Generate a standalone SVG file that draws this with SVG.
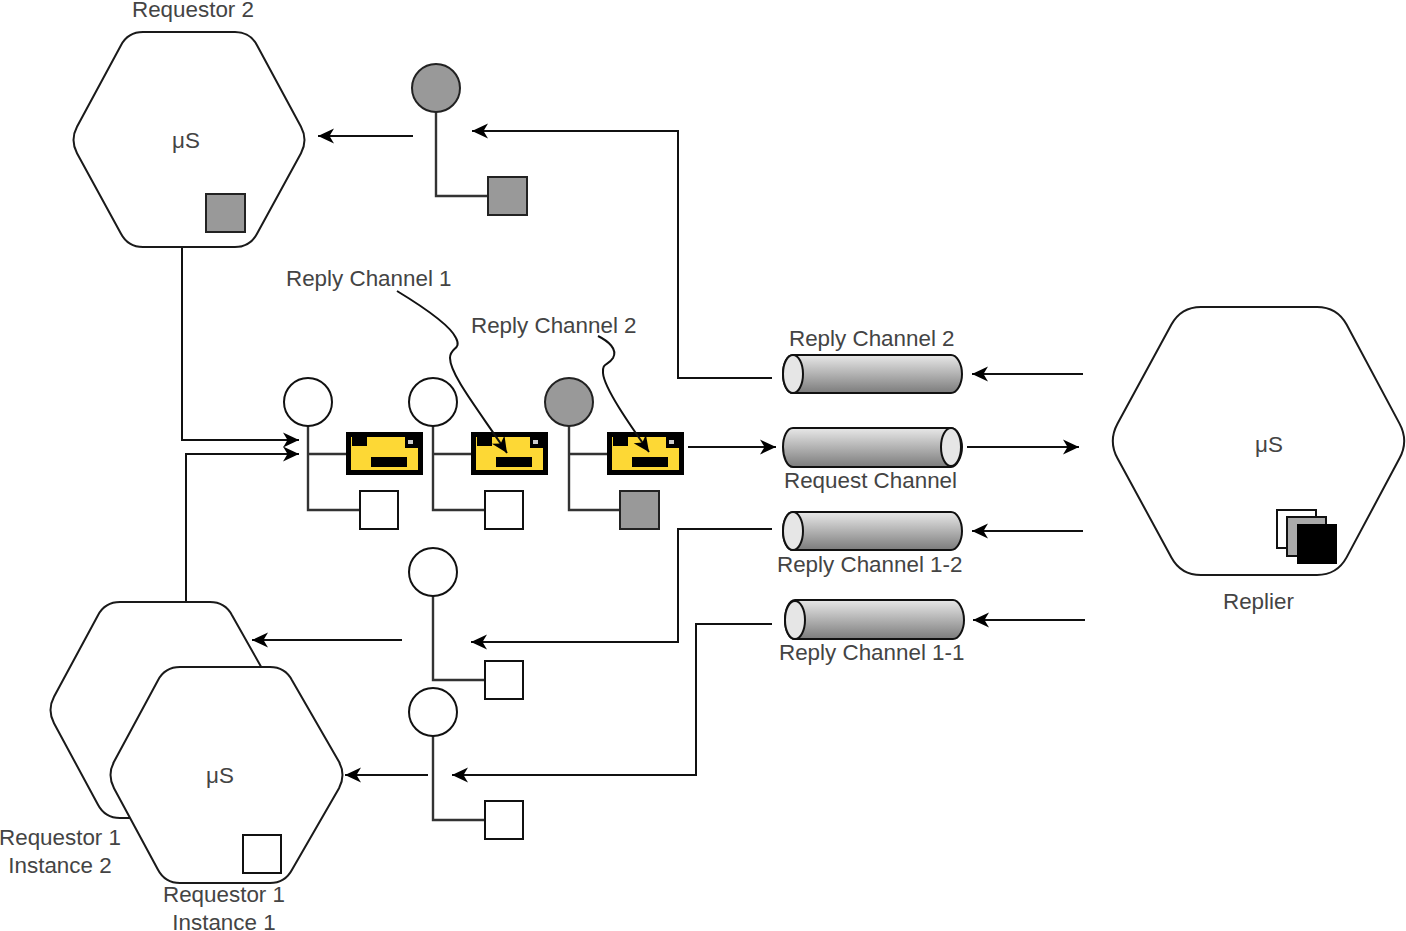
<svg xmlns="http://www.w3.org/2000/svg" width="1406" height="931" viewBox="0 0 1406 931">
<style>
text{font-family:"Liberation Sans",Arial,sans-serif;font-size:22.4px;fill:#444}
.m{text-anchor:middle}
.hex{fill:#fff;stroke:#1a1a1a;stroke-width:2}
.c{fill:none;stroke:#111;stroke-width:2}
.a{marker-end:url(#ah)}
.w{fill:#fff;stroke:#111;stroke-width:2}
.g{fill:#999;stroke:#222;stroke-width:2}
.stem{fill:none;stroke:#333;stroke-width:2.400}
.ye{fill:#fdd835;stroke:#000;stroke-width:5}
.k{fill:#000}
.cy{fill:url(#cg);stroke:#111;stroke-width:2}
.ce{fill:#e6e6e6;stroke:#111;stroke-width:2}
</style>
<defs>
<linearGradient id="cg" x1="0" y1="0" x2="0" y2="1"><stop offset="0" stop-color="#e8e8e8"/><stop offset="1" stop-color="#7c7c7c"/></linearGradient>
<marker id="ah" markerUnits="userSpaceOnUse" markerWidth="18" markerHeight="18" refX="16" refY="9" orient="auto"><path d="M0 1.500L16 9L0 16.500L4.500 9Z" fill="#000"/></marker>
<g id="yb"><rect class="ye" x="2.500" y="2.500" width="72" height="38"/><rect class="k" x="6" y="3" width="15" height="11"/><rect class="k" x="59" y="3" width="13" height="13"/><rect x="62" y="8" width="5" height="4" fill="#ccc"/><rect class="k" x="25" y="25" width="36" height="10"/></g>
</defs>

<g id="connectors">
<path class="c a" d="M182 247V440H299"/>
<path class="c a" d="M186 603V454H299"/>
<path class="c a" d="M413 136H318"/>
<path class="c a" d="M772 378H678V131H472"/>
<path class="c a" d="M1083 374H972"/>
<path class="c a" d="M688 447H776"/>
<path class="c a" d="M967 447H1079"/>
<path class="c a" d="M1083 531H972"/>
<path class="c a" d="M772 529H678V642H471"/>
<path class="c a" d="M402 640H252"/>
<path class="c a" d="M1085 620H973"/>
<path class="c a" d="M772 624H696V775H452"/>
<path class="c a" d="M428 775H345"/>
<path class="stem" d="M436 112V196H488"/>
<path class="stem" d="M308 426V510H360M308 454H346"/>
<path class="stem" d="M433 426V510H485M433 454H471"/>
<path class="stem" d="M569 426V510H620M569 454H607"/>
<path class="stem" d="M433 596V680H485"/>
<path class="stem" d="M433 736V820H485"/>
</g>

<g id="requestor2">
<path class="hex" d="M77 153.200Q70 140 77 126.800L121 45.200Q128 32 143 32H235Q250 32 257 45.200L301 126.800Q308 140 301 153.200L257 233.800Q250 247 235 247H143Q128 247 121 233.800Z"/>
<text class="m" x="186" y="148">μS</text>
<rect class="g" x="206" y="194" width="39" height="38"/>
<text class="m" x="193" y="17">Requestor 2</text>
</g>

<g id="requestor1-instance2">
<path class="hex" d="M54 723.200Q47 710 54 696.800L98 615.200Q105 602 120 602H210Q225 602 232 615.200L278 696.800Q285 710 278 723.200L232 804.800Q225 818 210 818H120Q105 818 98 804.800Z"/>
<text class="m" x="60" y="845">Requestor 1</text>
<text class="m" x="60" y="873">Instance 2</text>
</g>

<g id="requestor1-instance1">
<path class="hex" d="M114 788.200Q107 775 114 761.800L158 680.200Q165 667 180 667H270Q285 667 292 680.200L339 761.800Q346 775 339 788.200L292 869.800Q285 883 270 883H180Q165 883 158 869.800Z"/>
<text class="m" x="220" y="783">μS</text>
<rect class="w" x="243" y="835" width="38" height="38"/>
<text class="m" x="224" y="902">Requestor 1</text>
<text class="m" x="224" y="930">Instance 1</text>
</g>

<g id="replier">
<path class="hex" d="M1117.600 458.600Q1108 441 1117.600 423.400L1171.400 324.600Q1181 307 1201 307H1317Q1337 307 1346.600 324.600L1399.400 423.400Q1409 441 1399.400 458.600L1346.600 557.400Q1337 575 1317 575H1201Q1181 575 1171.400 557.400Z"/>
<text class="m" x="1269" y="452">μS</text>
<rect class="w" x="1277" y="510" width="39" height="38"/>
<rect x="1287" y="517" width="39" height="39" fill="#aaa" stroke="#111" stroke-width="2"/>
<rect class="k" x="1297" y="524" width="40" height="40"/>
<text x="1223" y="609">Replier</text>
</g>

<g id="endpoint-top"><circle class="g" cx="436" cy="88" r="24"/><rect class="g" x="488" y="177" width="39" height="38"/></g>
<g id="endpoint-1"><circle class="w" cx="308" cy="402" r="24"/><use href="#yb" x="346" y="432"/><rect class="w" x="360" y="491" width="38" height="38"/></g>
<g id="endpoint-2"><circle class="w" cx="433" cy="402" r="24"/><use href="#yb" x="471" y="432"/><rect class="w" x="485" y="491" width="38" height="38"/></g>
<g id="endpoint-3"><circle class="g" cx="569" cy="402" r="24"/><use href="#yb" x="607" y="432"/><rect class="g" x="620" y="491" width="39" height="38"/></g>
<g id="endpoint-4"><circle class="w" cx="433" cy="572" r="24"/><rect class="w" x="485" y="661" width="38" height="38"/></g>
<g id="endpoint-5"><circle class="w" cx="433" cy="712" r="24"/><rect class="w" x="485" y="801" width="38" height="38"/></g>

<g id="channel-reply2">
<path class="cy" d="M793 355H951C957 355 962 364 962 374S957 393 951 393H793C787 393 783 384 783 374S787 355 793 355Z"/>
<ellipse class="ce" cx="793" cy="374" rx="10" ry="19"/>
<text x="789" y="346">Reply Channel 2</text>
</g>
<g id="channel-request">
<path class="cy" d="M793 428H951C957 428 962 438 962 447S957 467 951 467H793C787 467 783 457 783 447S787 428 793 428Z"/>
<ellipse class="ce" cx="951" cy="447" rx="10" ry="19"/>
<text x="784" y="488">Request Channel</text>
</g>
<g id="channel-reply12">
<path class="cy" d="M793 512H951C957 512 962 521 962 531S957 550 951 550H793C787 550 783 541 783 531S787 512 793 512Z"/>
<ellipse class="ce" cx="793" cy="531" rx="10" ry="19"/>
<text x="777" y="572">Reply Channel 1-2</text>
</g>
<g id="channel-reply11">
<path class="cy" d="M795 600H953C959 600 964 610 964 620S959 639 953 639H795C789 639 785 630 785 620S789 600 795 600Z"/>
<ellipse class="ce" cx="795" cy="620" rx="10" ry="19"/>
<text x="779" y="660">Reply Channel 1-1</text>
</g>

<g id="callouts">
<text x="286" y="286">Reply Channel 1</text>
<text x="471" y="333">Reply Channel 2</text>
<path class="c a" d="M397 291C425 308 450 325 456 338C462 350 450 347 450 358C450 375 480 412 507 453"/>
<path class="c a" d="M598 336C608 341 618 349 613 358C608 366 602 362 603 373C604 388 630 425 649 452"/>
</g>
</svg>
